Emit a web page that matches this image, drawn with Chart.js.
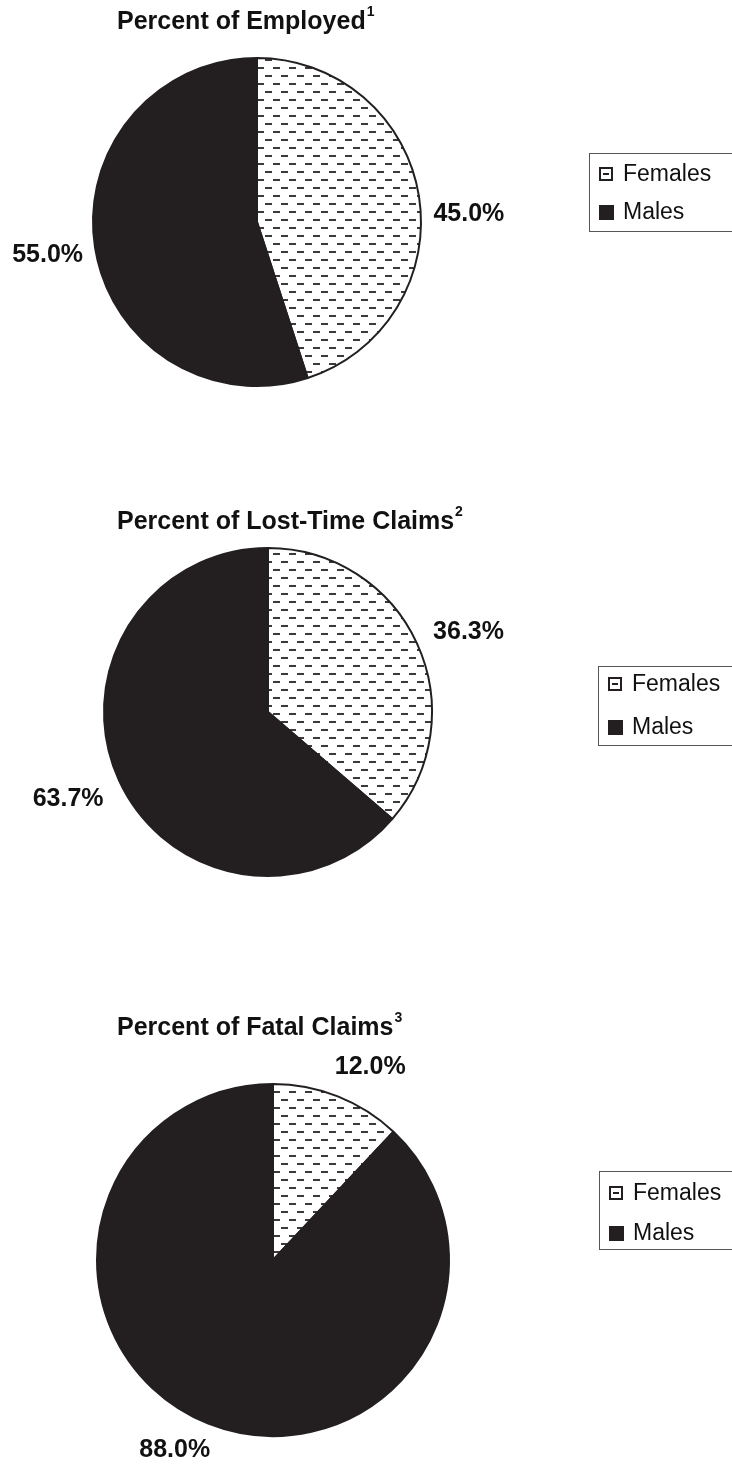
<!DOCTYPE html>
<html>
<head>
<meta charset="utf-8">
<script src="https://cdn.jsdelivr.net/npm/chart.js@4.4.0/dist/chart.umd.min.js"></script>
<style>
    html, body { margin: 0; padding: 0; background: #fff; }
    body { width: 732px; height: 1465px; position: relative; overflow: hidden; }
    .pie-box { position: absolute; left: 0; width: 732px; }
</style>
</head>
<body>
<div class="pie-box" id="box1" style="top:0px;height:470px"><canvas id="pie1"></canvas></div>
<div class="pie-box" id="box2" style="top:470px;height:490px"><canvas id="pie2"></canvas></div>
<div class="pie-box" id="box3" style="top:960px;height:505px"><canvas id="pie3"></canvas></div>
<script>
const categories = ['Females', 'Males'];
const employedValues = [45.0, 55.0];
const lostTimeValues = [36.3, 63.7];
const fatalValues = [12.0, 88.0];
const chartTitles = ['Percent of Employed', 'Percent of Lost-Time Claims', 'Percent of Fatal Claims'];
const titleNotes = ['1', '2', '3'];

const DARK = '#231f20';
const FONT = '"Liberation Sans", Arial, Helvetica, sans-serif';

// dashed fill used for the Females slice
function makeDashPattern() {
    const c = document.createElement('canvas');
    c.width = 16;
    c.height = 16;
    const g = c.getContext('2d');
    g.fillStyle = '#fff';
    g.fillRect(0, 0, 16, 16);
    g.fillStyle = '#3a3a3a';
    g.fillRect(1, 3, 7, 2);
    g.fillRect(9, 11, 7, 2);
    return g.createPattern(c, 'repeat');
}

const overlayPlugin = {
    id: 'overlay',
    afterDraw(chart, args, opts) {
        const ctx = chart.ctx;
        const meta = chart.getDatasetMeta(0);
        const values = chart.data.datasets[0].data;
        ctx.save();

        // title with footnote marker
        ctx.fillStyle = '#111';
        ctx.textBaseline = 'middle';
        ctx.textAlign = 'left';
        ctx.font = 'bold 25px ' + FONT;
        const tw = ctx.measureText(opts.title).width;
        ctx.fillText(opts.title, opts.titleX, opts.titleY);
        ctx.font = 'bold 14px ' + FONT;
        ctx.fillText(opts.note, opts.titleX + tw + 1, opts.titleY - 10);

        // percent labels outside each slice
        ctx.font = 'bold 25px ' + FONT;
        ctx.textAlign = 'center';
        meta.data.forEach((arc, i) => {
            const p = arc.getProps(['x', 'y', 'startAngle', 'endAngle', 'outerRadius'], true);
            const mid = (p.startAngle + p.endAngle) / 2 + (opts.labelTurn[i] || 0);
            const d = p.outerRadius + opts.labelGap[i];
            ctx.fillText(values[i].toFixed(1) + '%', p.x + Math.cos(mid) * d, p.y + Math.sin(mid) * d);
        });

        // legend box
        const lg = opts.legend;
        ctx.strokeStyle = '#555';
        ctx.lineWidth = 1;
        ctx.strokeRect(lg.x + 0.5, lg.y + 0.5, 200, lg.h);
        ctx.font = '23px ' + FONT;
        ctx.textAlign = 'left';
        chart.data.labels.forEach((name, i) => {
            const cy = lg.y + lg.rowY[i];
            const sx = lg.x + 10;
            if (i === 0) {
                ctx.fillStyle = '#fff';
                ctx.fillRect(sx, cy - 7, 14, 14);
                ctx.strokeStyle = DARK;
                ctx.lineWidth = 2;
                ctx.strokeRect(sx + 1, cy - 6, 12, 12);
                ctx.fillStyle = DARK;
                ctx.fillRect(sx + 4, cy - 1, 6, 2);
            } else {
                ctx.fillStyle = DARK;
                ctx.fillRect(sx, cy - 7, 15, 15);
            }
            ctx.fillStyle = '#111';
            ctx.fillText(name, sx + 24, cy + 1);
        });
        ctx.restore();
    }
};

function drawPie(id, values, cfg) {
    const dash = makeDashPattern();
    return new Chart(document.getElementById(id), {
        type: 'pie',
        data: {
            labels: categories,
            datasets: [{
                data: values,
                backgroundColor: [dash, DARK],
                borderColor: DARK,
                borderWidth: 2
            }]
        },
        options: {
            responsive: true,
            maintainAspectRatio: false,
            animation: false,
            events: [],
            layout: { padding: cfg.padding },
            plugins: {
                legend: { display: false },
                title: { display: false },
                tooltip: { enabled: false },
                overlay: cfg.overlay
            }
        },
        plugins: [overlayPlugin]
    });
}

// box1: 470px tall, pie centre (257,222) r 165
drawPie('pie1', employedValues, {
    padding: { left: 92, right: 310, top: 57, bottom: 83 },
    overlay: {
        title: chartTitles[0], note: titleNotes[0], titleX: 117, titleY: 22,
        labelTurn: [0.12, 0], labelGap: [48, 48],
        legend: { x: 589, y: 153, h: 78, rowY: [21, 59] }
    }
});

// box2: top 470, pie centre (268,712-470=242) r 165
drawPie('pie2', lostTimeValues, {
    padding: { left: 103, right: 299, top: 77, bottom: 83 },
    overlay: {
        title: chartTitles[1], note: titleNotes[1], titleX: 117, titleY: 52,
        labelTurn: [0.05, 0.02], labelGap: [52, 54],
        legend: { x: 598, y: 196, h: 79, rowY: [18, 61] }
    }
});

// box3: top 960, pie centre (273,1260-960=300) r 177
drawPie('pie3', fatalValues, {
    padding: { left: 96, right: 282, top: 123, bottom: 28 },
    overlay: {
        title: chartTitles[2], note: titleNotes[2], titleX: 117, titleY: 68,
        labelTurn: [0.09, 0.1], labelGap: [40, 38],
        legend: { x: 599, y: 211, h: 78, rowY: [22, 62] }
    }
});
</script>
</body>
</html>
